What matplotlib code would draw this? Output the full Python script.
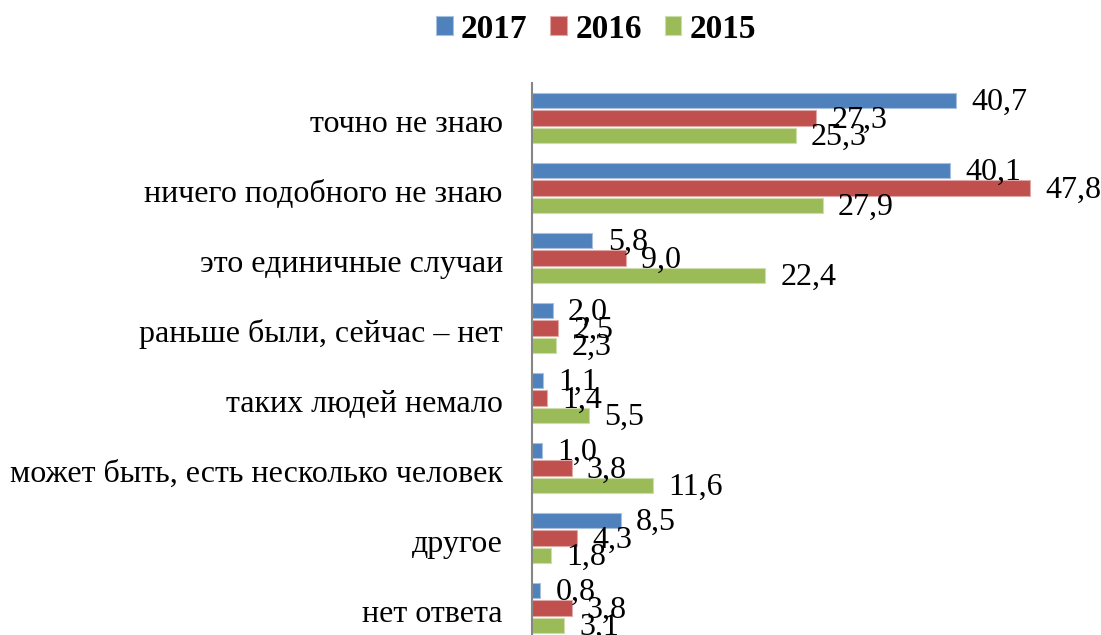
import matplotlib
matplotlib.use('Agg')
import numpy as np
import matplotlib.pyplot as plt
import matplotlib.transforms as mtransforms

# survey answers, top to bottom as in the chart
categories = ['точно не знаю', 'ничего подобного не знаю', 'это единичные случаи',
              'раньше были, сейчас – нет', 'таких людей немало',
              'может быть, есть несколько человек', 'другое', 'нет ответа']
years = ['2017', '2016', '2015']
vals_2017 = [40.7, 40.1, 5.8, 2.0, 1.1, 1.0, 8.5, 0.8]
vals_2016 = [27.3, 47.8, 9.0, 2.5, 1.4, 3.8, 4.3, 3.8]
vals_2015 = [25.3, 27.9, 22.4, 2.3, 5.5, 11.6, 1.8, 3.1]
colors = ['#4F81BD', '#C0504D', '#9BBB59']
edges = ['#A7C0DE', '#E0A8A6', '#CDDDAC']

plt.rcParams['font.family'] = ['Liberation Serif', 'DejaVu Serif']

fig = plt.figure(figsize=(11.01, 6.35), dpi=100)
ax = fig.add_axes([532 / 1101, 0, 1 - 532 / 1101, 1 - 83 / 635])

y = np.arange(len(categories))
step = 0.25
series = [vals_2017, vals_2016, vals_2015]
for k, (vals, year) in enumerate(zip(series, years)):
    pos = y + (k - 1) * step
    ax.barh(pos, vals, height=0.215, color=colors[k], edgecolor=edges[k],
            linewidth=0.8, label=year)
    for p, v in zip(pos, vals):
        ax.annotate(f'{v:.1f}'.replace('.', ','), (v, p), xytext=(11, -1.5),
                    textcoords='offset points', ha='left', va='center',
                    fontsize=23, color='black', annotation_clip=False)

ax.set_xlim(0, (1101 - 532) / 10.42)
ax.set_ylim(7.386, -0.5)
ax.set_yticks(y)
ax.set_yticklabels(categories, fontsize=23)
ax.tick_params(axis='y', length=0, pad=21)
# category names sit a little below the group centre
shift = mtransforms.ScaledTranslation(0, -3 / 100, fig.dpi_scale_trans)
for lbl in ax.get_yticklabels():
    lbl.set_transform(lbl.get_transform() + shift)
ax.set_xticks([])
for s in ['top', 'right', 'bottom']:
    ax.spines[s].set_visible(False)
ax.spines['left'].set_color('#868686')
ax.spines['left'].set_linewidth(1.5)

fig.legend(loc='center', bbox_to_anchor=(596 / 1101, 1 - 29 / 635), ncol=3,
           frameon=False, prop={'weight': 'bold', 'size': 24},
           handlelength=0.5, handleheight=0.5, handletextpad=0.24,
           columnspacing=0.69)

fig.savefig('out.png', dpi=100)
